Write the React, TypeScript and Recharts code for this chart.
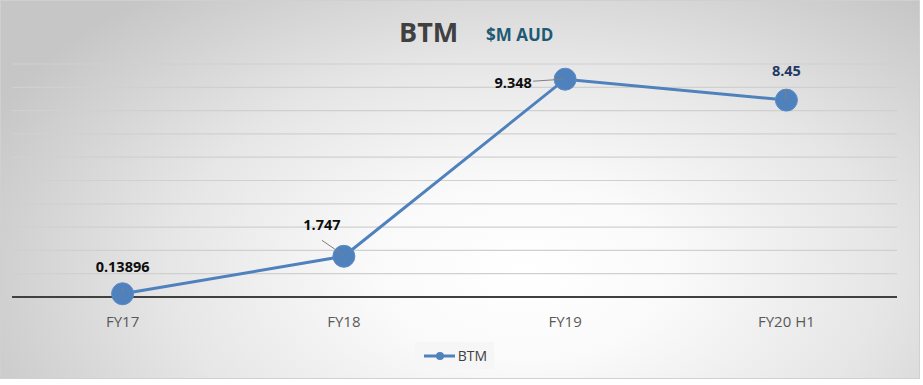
import { LineChart, Line, XAxis, YAxis, CartesianGrid, Legend } from "recharts";

const categories = ["FY17", "FY18", "FY19", "FY20 H1"];
const btmValues = [0.13896, 1.747, 9.348, 8.45];
const yTicks = [0, 1, 2, 3, 4, 5, 6, 7, 8, 9, 10];

const data = categories.map((period, i) => ({ period, BTM: btmValues[i] }));

const FONT = "'Open Sans', 'Noto Sans', sans-serif";
const LINE = "#4f81bd";

// label placement relative to each point, plus the little leader lines
const labelLook = [
  { dx: 0, dy: -27, color: "#0d0d0d", lead: [0, -6, 0, -1] },
  { dx: -22, dy: -32, color: "#0d0d0d", lead: [-22, -16, 0, -1] },
  { dx: -52, dy: 3, color: "#0d0d0d", lead: [-32, 2, -2, 0] },
  { dx: 0, dy: -30, color: "#1f3864", lead: [-2, -11, 0, 0] },
];

function ValueLabel(props: any) {
  const { x, y, value, index } = props;
  const look = labelLook[index] || labelLook[0];
  const [x1, y1, x2, y2] = look.lead;
  return (
    <g>
      <line
        x1={x + x1}
        y1={y + y1}
        x2={x + x2}
        y2={y + y2}
        stroke="#7f7f7f"
        strokeWidth={1}
      />
      <text
        x={x + look.dx}
        y={y + look.dy}
        textAnchor="middle"
        dominantBaseline="central"
        fontFamily={FONT}
        fontWeight={700}
        fontSize={14.5}
        fill={look.color}
      >
        {String(value)}
      </text>
    </g>
  );
}

function LegendBox() {
  return (
    <div
      style={{
        height: 27,
        display: "flex",
        justifyContent: "center",
      }}
    >
      <div
        style={{
          display: "flex",
          alignItems: "center",
          height: 27,
          padding: "0 7px 0 9px",
          background: "#f6f6f6",
          fontFamily: FONT,
          fontSize: 14,
          color: "#404040",
        }}
      >
        <svg width={32} height={10} style={{ marginRight: 2 }}>
          <line x1={0} y1={5} x2={31} y2={5} stroke={LINE} strokeWidth={3} />
          <circle cx={16} cy={5} r={4} fill={LINE} />
        </svg>
        BTM
      </div>
    </div>
  );
}

export default function App() {
  return (
    <div
      style={{
        position: "relative",
        width: 923,
        height: 385,
        background: "#ffffff",
        fontFamily: FONT,
      }}
    >
      <style>{"body{margin:0}"}</style>
      <div
        style={{
          position: "absolute",
          left: 0,
          top: 0,
          width: 918,
          height: 377,
          border: "1px solid #d0d0d0",
          background:
            "radial-gradient(ellipse 65% 95% at 57% 72%, #ffffff 0%, #fafafa 25%, #e6e6e6 60%, #c6c6c6 100%)",
        }}
      />
      <div
        style={{
          position: "absolute",
          left: 399,
          top: 13,
          fontSize: 27,
          fontWeight: 700,
          color: "#404040",
          lineHeight: "38px",
        }}
      >
        BTM
      </div>
      <div
        style={{
          position: "absolute",
          left: 486,
          top: 23,
          fontSize: 17,
          fontWeight: 700,
          color: "#1d5a74",
          lineHeight: "24px",
        }}
      >
        $M AUD
      </div>
      <div style={{ position: "absolute", left: 0, top: 0 }}>
        <LineChart
          width={923}
          height={385}
          data={data}
          margin={{ top: 64, right: 26, left: 12, bottom: 16 }}
        >
          <CartesianGrid vertical={false} stroke="#d0d0d0" strokeWidth={1.2} />
          <XAxis
            dataKey="period"
            height={45}
            padding={{ left: 110.6, right: 110.6 }}
            axisLine={{ stroke: "#404040", strokeWidth: 2 }}
            tickLine={false}
            tickSize={6}
            tickMargin={13}
            tick={{ fill: "#595959", fontSize: 15, fontFamily: FONT }}
          />
          <YAxis hide domain={[0, 10]} ticks={yTicks} />
          <Legend verticalAlign="bottom" align="center" content={<LegendBox />} />
          <Line
            type="linear"
            dataKey="BTM"
            stroke={LINE}
            strokeWidth={3}
            dot={{ r: 11, fill: LINE, stroke: "#5a8cc8", strokeWidth: 1 }}
            activeDot={false}
            label={<ValueLabel />}
            isAnimationActive={false}
          />
        </LineChart>
      </div>
    </div>
  );
}
